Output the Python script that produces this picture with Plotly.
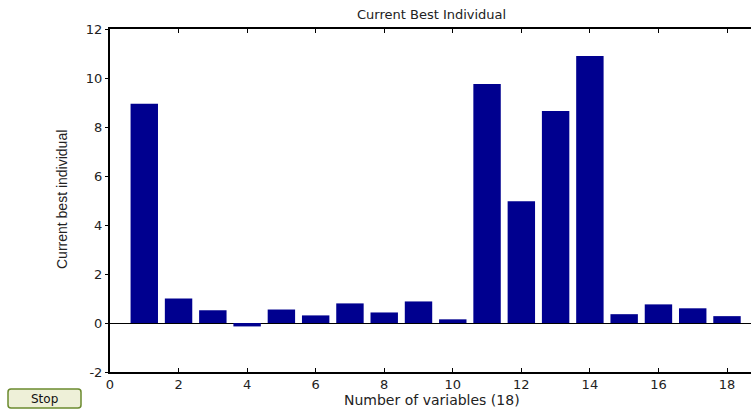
import plotly.graph_objects as go

variables = list(range(1, 19))
values = [8.95, 1.0, 0.52, -0.14, 0.55, 0.31, 0.8, 0.43, 0.88, 0.15,
          9.76, 4.97, 8.65, 10.9, 0.36, 0.76, 0.6, 0.28]
x_ticks = list(range(0, 19, 2))
y_ticks = list(range(-2, 13, 2))
y_tick_labels = [str(v) for v in y_ticks]

W, H = 751, 410
L, R, T, B = 110, 0, 29, 38
pw, ph = W - L - R, H - T - B

def px_x(p):
    return (p - L) / pw

def px_y(p):
    return (H - B - p) / ph

fig = go.Figure(go.Bar(x=variables, y=values, width=0.8,
                       marker=dict(color="#00008F", line=dict(width=0))))

fig.update_layout(
    width=W, height=H,
    margin=dict(l=L, r=R, t=T, b=B, pad=0),
    plot_bgcolor="white", paper_bgcolor="white",
    showlegend=False,
    font=dict(family="DejaVu Sans, Arial, sans-serif", color="#222"),
    xaxis=dict(range=[0, 18.7], tickvals=x_ticks, ticks="inside", ticklen=4,
               tickcolor="black", showline=True, linecolor="black", linewidth=1.5,
               mirror="ticks", showgrid=False, zeroline=False, automargin=False,
               tickfont=dict(size=13, color="#222")),
    yaxis=dict(range=[-2, 12], tickvals=y_ticks, ticktext=y_tick_labels,
               ticks="outside", ticklen=3,
               tickcolor="black", showline=True, linecolor="black", linewidth=2,
               showgrid=False, zeroline=True, zerolinecolor="black", zerolinewidth=1,
               automargin=False, tickfont=dict(size=13, color="#222")),
    bargap=0.2,
)

# Titles as annotations for exact placement
fig.add_annotation(xref="paper", yref="paper", x=px_x(432), y=px_y(15),
                   text="Current Best Individual", showarrow=False,
                   xanchor="center", yanchor="middle",
                   font=dict(size=13, color="#222"))
fig.add_annotation(xref="paper", yref="paper", x=px_x(432), y=px_y(400),
                   text="Number of variables (18)", showarrow=False,
                   xanchor="center", yanchor="middle",
                   font=dict(size=14, color="#222"))
fig.add_annotation(xref="paper", yref="paper", x=px_x(62), y=px_y(200),
                   text="Current best individual", showarrow=False, textangle=-90,
                   xanchor="center", yanchor="middle",
                   font=dict(size=14, color="#222",
                             family="Liberation Sans Narrow, Arial Narrow, sans-serif"))

# Stop button (rounded rectangle)
x0, x1, y0, y1, r = px_x(8), px_x(81), px_y(408), px_y(389), 3
rx, ry = r / pw, r / ph
path = (f"M {x0+rx},{y0} L {x1-rx},{y0} Q {x1},{y0} {x1},{y0+ry} "
        f"L {x1},{y1-ry} Q {x1},{y1} {x1-rx},{y1} L {x0+rx},{y1} "
        f"Q {x0},{y1} {x0},{y1-ry} L {x0},{y0+ry} Q {x0},{y0} {x0+rx},{y0} Z")
fig.add_shape(type="path", xref="paper", yref="paper", path=path,
              fillcolor="#eef0d8", line=dict(color="#6b8a2e", width=1.5))
fig.add_annotation(xref="paper", yref="paper", x=px_x(44.5), y=px_y(398.5),
                   text="Stop", showarrow=False, xanchor="center", yanchor="middle",
                   font=dict(size=12, color="#111"))

fig.write_html("out.html", config={"displayModeBar": False},
               post_script="document.body.style.margin='0';document.body.style.padding='0';")
